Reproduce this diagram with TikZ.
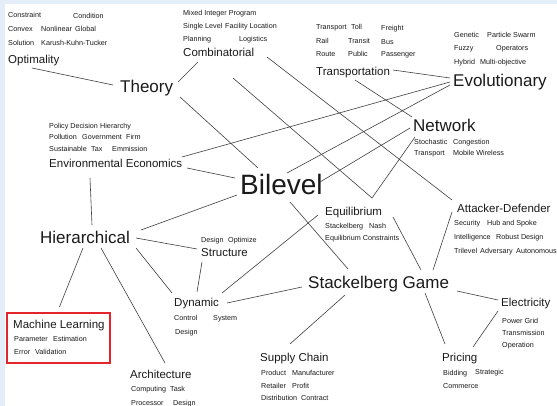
\documentclass[tikz,border=0pt]{standalone}
\usepackage{fontspec}
\setmainfont{Liberation Sans}
\usetikzlibrary{calc}
\definecolor{stripbg}{HTML}{E3EEF9}
\definecolor{framered}{HTML}{E3242B}
\definecolor{ink}{HTML}{1A1A1A}
\definecolor{wire}{HTML}{404040}

\tikzset{
  kw/.style={anchor=west, inner sep=0pt, text height=5.2pt, text depth=0pt,
             font=\fontsize{7.2}{8.6}\selectfont, text=ink},
  topic/.style={anchor=west, inner sep=0pt, text height=8.3pt, text depth=0pt,
             font=\fontsize{11.5}{13}\selectfont, text=ink},
  major/.style={anchor=west, inner sep=0pt, text height=12.2pt, text depth=0pt,
             font=\fontsize{17}{20}\selectfont, text=ink},
  core/.style={anchor=west, inner sep=0pt, text height=20pt, text depth=0pt,
             font=\fontsize{28}{32}\selectfont, text=ink},
  link/.style={draw=wire, line width=0.6pt},
  mlframe/.style={draw=framered, line width=1.8pt, inner sep=0pt, anchor=north west},
}

\begin{document}
\begin{tikzpicture}[x=1pt,y=-1pt]
% page background with a pale strip along the top and left edges
\fill[stripbg] (0,0) rectangle (557,406);
\fill[white] (5,4) rectangle (557,406);
\useasboundingbox (0,0) rectangle (557,406);

% topics
\node[topic] (opt)     at (8,59)    {Optimality};
\node[major] (theory)  at (120,86)  {Theory};
\node[topic] (comb)    at (183,52)  {Combinatorial};
\node[topic] (transp)  at (316,71)  {Transportation};
\node[major] (evo)     at (453,80)  {Evolutionary};
\node[major] (network) at (413,125) {Network};
\node[topic] (env)     at (49,163)  {Environmental Economics};
\node[core]  (bilevel) at (240,185) {Bilevel};
\node[topic] (equil)   at (325,211) {Equilibrium};
\node[topic] (attack)  at (457,208) {Attacker-Defender};
\node[topic] (struct)  at (201,252) {Structure};
\node[major] (hier)    at (40,237)  {Hierarchical};
\node[topic] (dyn)     at (174,302) {Dynamic};
\node[topic] (ml)      at (13,324)  {Machine Learning};
\node[mlframe, minimum width=103pt, minimum height=50pt] (mlbox) at (6,312) {};
\node[topic] (arch)    at (130,374) {Architecture};
\node[topic] (supply)  at (260,357) {Supply Chain};
\node[major] (stack)   at (308,282) {Stackelberg Game};
\node[topic] (elec)    at (501,302) {Electricity};
\node[topic] (pricing) at (442,357) {Pricing};

% keywords around each topic
\foreach \n/\x/\y/\t in {
  o1/8/15/Constraint, o2/73/16/Condition, o3/8/29/Convex, o4/41/29/Nonlinear,
  o5/75/29/Global, o6/8/43/Solution, o7/41/43/Karush-Kuhn-Tucker,
  c1/183/13/Mixed Integer Program, c2/183/26/Single Level, c3/225/26/Facility Location,
  c4/183/39/Planning, c5/239/39/Logistics,
  t1/316/27/Transport, t2/351/27/Toll, t3/381/28/Freight,
  t4/316/41/Rail, t5/348/41/Transit, t6/381/42/Bus,
  t7/316/54/Route, t8/348/54/Public, t9/381/54/Passenger,
  e1/454/35/Genetic, e2/487/35/Particle Swarm, e3/454/48/Fuzzy, e4/496/48/Operators,
  e5/454/62/Hybrid, e6/480/62/Multi-objective,
  n1/414/142/Stochastic, n2/453/142/Congestion, n3/414/153/Transport, n4/453/153/Mobile Wireless,
  v1/49/126/Policy Decision, v2/100/126/Hierarchy, v3/49/137/Pollution, v4/82/137/Government,
  v5/126/137/Firm, v6/49/149/Sustainable, v7/91/149/Tax, v8/112/149/Emmission,
  q1/325/226/Stackelberg, q2/369/226/Nash, q3/325/238/Equilibrium Constraints,
  a1/454/223/Security, a2/487/223/Hub and Spoke, a3/454/237/Intelligence,
  a4/496/237/Robust Design, a5/454/251/Trilevel, a6/480/251/Adversary, a7/516/251/Autonomous,
  s1/201/240/Design, s2/228/240/Optimize,
  d1/174/318/Control, d2/213/318/System, d3/175/332/Design,
  m1/14/339/Parameter, m2/53/339/Estimation, m3/14/352/Error, m4/35/352/Validation,
  r1/131/389/Computing, r2/170/389/Task, r3/131/403/Processor, r4/173/403/Design,
  u1/261/373/Product, u2/292/373/Manufacturer, u3/261/386/Retailer, u4/292/386/Profit,
  u5/261/398/Distribution, u6/301/398/Contract,
  l1/502/321/Power Grid, l2/502/333/Transmission, l3/502/345/Operation,
  p1/443/373/Bidding, p2/475/372/Strategic, p3/443/386/Commerce}
  \node[kw] (\n) at (\x,\y) {\t};

% connectors, each end offset from the west anchor of its topic
\draw[link] ([shift={(24,9)}]opt.west)      -- ([shift={(-7,-1)}]theory.west);
\draw[link] ([shift={(58,-4)}]theory.west)  -- ([shift={(15,10)}]comb.west);
\draw[link] ([shift={(60,11)}]theory.west)  -- ([shift={(18,-17)}]bilevel.west);
\draw[link] ([shift={(84,5)}]comb.west)     -- ([shift={(-5,-8)}]attack.west);
\draw[link] ([shift={(50,26)}]comb.west)    -- ([shift={(47,-13)}]equil.west);
\draw[link] ([shift={(77,-1)}]transp.west)  -- ([shift={(-3,-2)}]evo.west);
\draw[link] ([shift={(39,9)}]transp.west)   -- ([shift={(-1,-8)}]network.west);
\draw[link] ([shift={(-3,2)}]evo.west)      -- ([shift={(133,-6)}]env.west);
\draw[link] ([shift={(-3,5)}]evo.west)      -- ([shift={(47,-12)}]bilevel.west);
\draw[link] ([shift={(-3,3)}]network.west)  -- ([shift={(80,-3)}]bilevel.west);
\draw[link] ([shift={(2,12)}]network.west)  -- ([shift={(47,-13)}]equil.west);
\draw[link] ([shift={(138,5)}]env.west)     -- ([shift={(-5,-7)}]bilevel.west);
\draw[link] ([shift={(41,15)}]env.west)     -- ([shift={(52,-12)}]hier.west);
\draw[link] ([shift={(-3,10)}]bilevel.west) -- ([shift={(101,-7)}]hier.west);
\draw[link] ([shift={(96,1)}]hier.west)     -- ([shift={(-4,-3)}]struct.west);
\draw[link] ([shift={(96,11)}]hier.west)    -- ([shift={(-2,-9)}]dyn.west);
\draw[link] ([shift={(61,11)}]hier.west)    -- ([shift={(35,-11)}]arch.west);
\draw[link] ([shift={(43,11)}]hier.west)    -- ([shift={(1,-5)}]mlbox.north);
\draw[link] ([shift={(1,10)}]struct.west)   -- ([shift={(23,-10)}]dyn.west);
\draw[link] ([shift={(-7,4)}]equil.west)    -- ([shift={(48,-9)}]dyn.west);
\draw[link] ([shift={(68,6)}]equil.west)    -- ([shift={(113,-12)}]stack.west);
\draw[link] ([shift={(50,17)}]bilevel.west) -- ([shift={(40,-13)}]stack.west);
\draw[link] ([shift={(-5,4)}]attack.west)   -- ([shift={(125,-12)}]stack.west);
\draw[link] ([shift={(53,1)}]dyn.west)      -- ([shift={(-6,5)}]stack.west);
\draw[link] ([shift={(37,13)}]stack.west)   -- ([shift={(30,-13)}]supply.west);
\draw[link] ([shift={(117,11)}]stack.west)  -- ([shift={(3,-13)}]pricing.west);
\draw[link] ([shift={(149,9)}]stack.west)   -- ([shift={(-3,-2)}]elec.west);
\draw[link] ([shift={(-3,9)}]elec.west)     -- ([shift={(31,-10)}]pricing.west);
\end{tikzpicture}
\end{document}
